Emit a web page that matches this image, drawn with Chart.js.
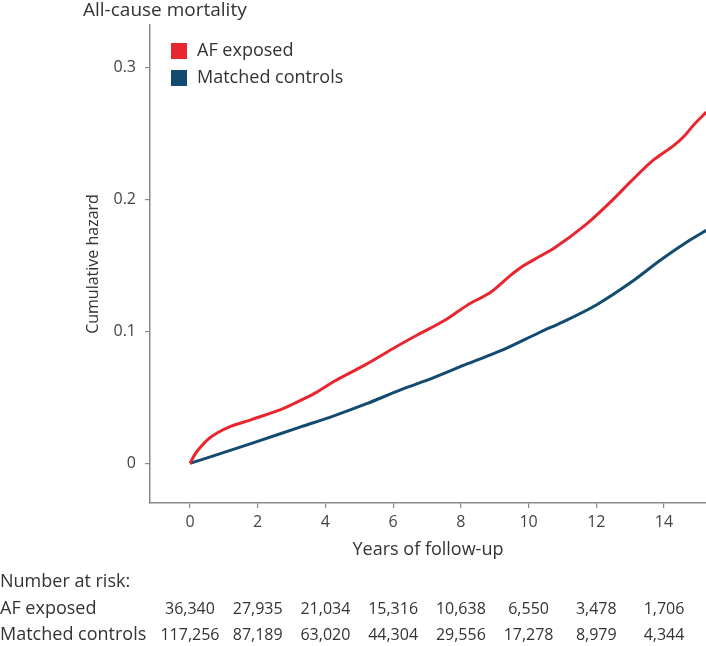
<!DOCTYPE html>
<html>
<head>
<meta charset="utf-8">
<script src="https://cdn.jsdelivr.net/npm/chart.js@4.4.1/dist/chart.umd.min.js"></script>
<style>
  html, body { margin: 0; padding: 0; background: #fff; }
  #wrap { position: relative; width: 706px; height: 646px; }
</style>
</head>
<body>
<div id="wrap"><canvas id="hazardChart"></canvas></div>
<script>
// cumulative hazard
const afYears = [0, 0.15, 0.3, 0.5, 0.8, 1.2, 1.8, 2.8, 3.25, 3.75, 4.25, 5.2, 6.0, 6.7, 7.5, 8.2, 8.9, 9.45, 9.75, 10.35, 10.75, 11.7, 12.5, 13.0, 13.7, 14.3, 14.6, 14.9, 15.25];
const afHazard = [0, 0.007, 0.012, 0.0175, 0.023, 0.028, 0.033, 0.042, 0.0475, 0.054, 0.062, 0.075, 0.087, 0.097, 0.108, 0.12, 0.13, 0.142, 0.148, 0.157, 0.163, 0.181, 0.2, 0.213, 0.23, 0.241, 0.248, 0.257, 0.266];
const ctrlYears = [0, 1.8, 3.25, 4.25, 5.2, 6.2, 7.2, 8.2, 9.2, 10.35, 11.0, 12.0, 13.1, 13.9, 14.7, 15.25];
const ctrlHazard = [0, 0.015, 0.0275, 0.036, 0.045, 0.0555, 0.065, 0.0755, 0.0855, 0.0995, 0.107, 0.12, 0.1385, 0.154, 0.168, 0.1765];

// axis ticks
const xTicks = [0, 2, 4, 6, 8, 10, 12, 14];
const yTicks = [0, 0.1, 0.2, 0.3];

// number at risk table
const riskYears = [0, 2, 4, 6, 8, 10, 12, 14];
const afRisk = ['36,340', '27,935', '21,034', '15,316', '10,638', '6,550', '3,478', '1,706'];
const ctrlRisk = ['117,256', '87,189', '63,020', '44,304', '29,556', '17,278', '8,979', '4,344'];

const seriesNames = ['AF exposed', 'Matched controls'];
const RED = '#E8262F';
const BLUE = '#124A70';
const FONT = "'Open Sans', 'Liberation Sans', sans-serif";
const TEXT = '#333';

// title, legend and risk table drawn on top
const extras = {
    id: 'extras',
    afterDraw(chart) {
        const c = chart.ctx;
        const x = chart.scales.x;
        c.save();
        c.textBaseline = 'middle';
        c.fillStyle = TEXT;
        c.textAlign = 'left';
        c.font = '19px ' + FONT;
        c.fillText('All-cause mortality', 83, 11);

        // legend
        c.font = '18px ' + FONT;
        [RED, BLUE].forEach((col, i) => {
            const y = 43 + i * 27;
            c.fillStyle = col;
            c.fillRect(171, y, 16, 16);
            c.fillStyle = TEXT;
            c.fillText(seriesNames[i], 197, y + 8);
        });

        // number at risk
        c.fillText('Number at risk:', 0, 582);
        c.fillText(seriesNames[0], 0, 609);
        c.fillText(seriesNames[1], 0, 635);
        c.font = '16px ' + FONT;
        c.textAlign = 'center';
        riskYears.forEach((t, i) => {
            const px = x.getPixelForValue(t);
            c.fillText(afRisk[i], px, 609);
            c.fillText(ctrlRisk[i], px, 635);
        });
        c.restore();
    }
};

const ctx = document.getElementById('hazardChart').getContext('2d');

new Chart(ctx, {
    type: 'line',
    data: {
        datasets: [
            {
                label: seriesNames[0],
                data: afYears.map((t, i) => ({ x: t, y: afHazard[i] })),
                borderColor: RED,
                borderWidth: 3,
                pointRadius: 0,
                cubicInterpolationMode: 'monotone'
            },
            {
                label: seriesNames[1],
                data: ctrlYears.map((t, i) => ({ x: t, y: ctrlHazard[i] })),
                borderColor: BLUE,
                borderWidth: 3,
                pointRadius: 0,
                cubicInterpolationMode: 'monotone'
            }
        ]
    },
    options: {
        responsive: true,
        maintainAspectRatio: false,
        animation: false,
        layout: {
            padding: { top: 25, left: 0, right: 0, bottom: 0 }
        },
        plugins: {
            legend: { display: false },
            tooltip: { enabled: false }
        },
        scales: {
            x: {
                type: 'linear',
                min: -1.18,
                max: 15.24,
                afterBuildTicks: (scale) => { scale.ticks = xTicks.map(v => ({ value: v })); },
                afterFit: (scale) => { scale.height = 143; },
                ticks: {
                    color: '#444',
                    padding: 5,
                    font: { family: FONT, size: 16 },
                    callback: (v) => String(v)
                },
                grid: { drawOnChartArea: false, drawTicks: true, tickLength: 5, color: '#888', lineWidth: 1.2 },
                border: { display: true, color: '#888', width: 1.5 },
                title: {
                    display: true,
                    text: 'Years of follow-up',
                    color: TEXT,
                    font: { family: FONT, size: 18 },
                    padding: { top: 0, bottom: 85 }
                }
            },
            y: {
                type: 'linear',
                min: -0.03,
                max: 0.332,
                afterBuildTicks: (scale) => { scale.ticks = yTicks.map(v => ({ value: v })); },
                afterFit: (scale) => { scale.width = 150; },
                ticks: {
                    color: '#444',
                    padding: 9,
                    font: { family: FONT, size: 16 },
                    callback: (v) => v === 0 ? '0' : v.toFixed(1)
                },
                grid: { drawOnChartArea: false, drawTicks: true, tickLength: 5, color: '#888', lineWidth: 1.2 },
                border: { display: true, color: '#888', width: 1.5 },
                title: {
                    display: true,
                    text: 'Cumulative hazard',
                    color: TEXT,
                    font: { family: FONT, size: 16 },
                    padding: { top: 84, bottom: 0 }
                }
            }
        }
    },
    plugins: [extras]
});
</script>
</body>
</html>
